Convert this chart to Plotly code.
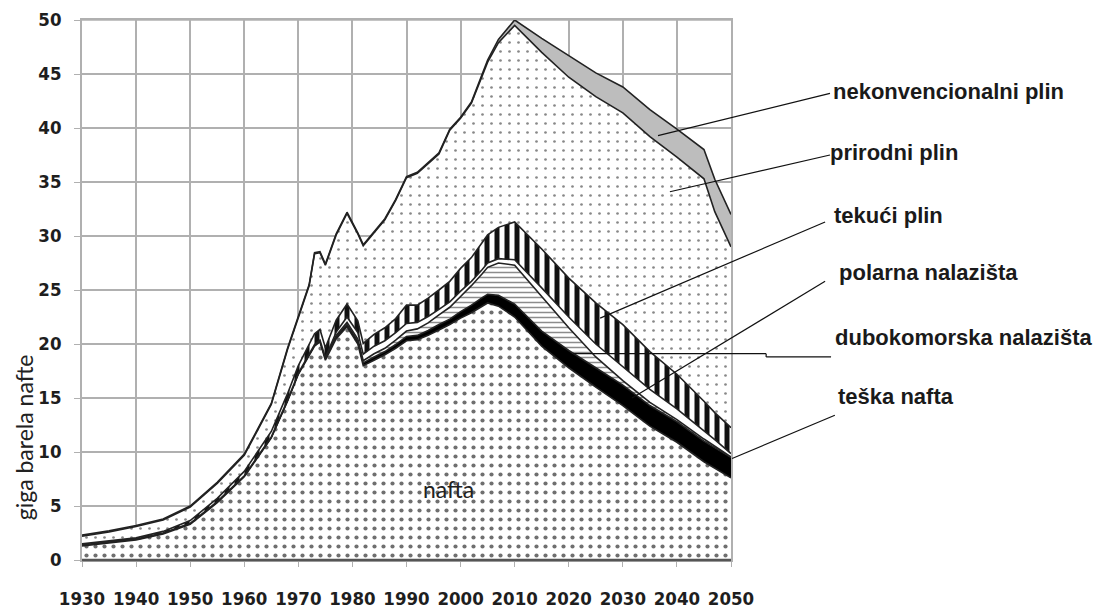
import plotly.graph_objects as go

years = [1930, 1935, 1940, 1945, 1950, 1955, 1960, 1965, 1968, 1970, 1972, 1973, 1974, 1975,
         1977, 1979, 1981, 1982, 1984, 1986, 1988, 1990, 1992, 1994, 1996, 1998, 2000, 2002,
         2004, 2005, 2007, 2010, 2015, 2020, 2025, 2030, 2035, 2040, 2045, 2047, 2050]

nafta = [1.3, 1.55, 1.85, 2.4, 3.3, 5.3, 7.7, 11.3, 14.7, 17.2, 19.0, 19.8, 20.2, 18.5,
         20.5, 21.6, 20.0, 18.0, 18.5, 19.0, 19.6, 20.3, 20.4, 20.8, 21.3, 21.8, 22.4, 22.9,
         23.5, 23.8, 23.5, 22.5, 19.8, 17.8, 16.0, 14.3, 12.4, 10.9, 9.1, 8.5, 7.6]
teska_nafta = [0.1, 0.1, 0.1, 0.1, 0.1, 0.1, 0.1, 0.1, 0.1, 0.1, 0.1, 0.1, 0.1, 0.15,
               0.2, 0.2, 0.25, 0.25, 0.3, 0.3, 0.35, 0.4, 0.4, 0.45, 0.5, 0.5, 0.6, 0.7,
               0.8, 0.8, 1.0, 1.2, 1.4, 1.6, 1.8, 1.9, 1.9, 1.9, 1.9, 1.9, 1.9]
dubokomorska = [0, 0, 0, 0, 0, 0, 0, 0, 0, 0, 0, 0.05, 0.05, 0.1,
                0.1, 0.2, 0.2, 0.2, 0.3, 0.3, 0.4, 0.5, 0.6, 0.7, 0.9, 1.1, 1.4, 1.8,
                2.2, 2.5, 3.0, 3.6, 3.2, 2.1, 1.0, 0.4, 0.3, 0.2, 0.2, 0.15, 0.05]
polarna = [0, 0, 0, 0, 0, 0, 0, 0, 0, 0, 0, 0, 0, 0,
           0.3, 0.5, 0.6, 0.6, 0.7, 0.7, 0.7, 0.7, 0.6, 0.6, 0.5, 0.5, 0.5, 0.4,
           0.4, 0.4, 0.4, 0.5, 0.8, 1.0, 1.2, 1.3, 1.2, 1.0, 0.8, 0.6, 0.3]
tekuci_plin = [0.1, 0.1, 0.1, 0.15, 0.25, 0.3, 0.4, 0.5, 0.6, 0.7, 0.9, 1.0, 1.0, 0.9,
               1.1, 1.2, 1.1, 1.0, 1.1, 1.2, 1.3, 1.7, 1.6, 1.7, 1.8, 1.9, 2.1, 2.2,
               2.5, 2.6, 2.9, 3.5, 3.6, 3.6, 3.8, 3.9, 3.5, 3.2, 2.7, 2.5, 2.4]
prirodni_plin = [0.7, 0.85, 1.05, 1.05, 1.25, 1.4, 1.5, 2.5, 4.1, 4.4, 5.4, 7.4, 7.1, 7.65,
                 7.9, 8.4, 8.05, 9.05, 9.4, 10.0, 10.95, 11.8, 12.2, 12.45, 12.6, 14.0, 13.9, 14.3,
                 15.5, 16.0, 17.1, 18.2, 18.2, 18.6, 19.1, 19.6, 19.9, 20.1, 20.6, 18.6, 16.75]
nekonvencionalni_plin = [0.1, 0.1, 0.1, 0.1, 0.1, 0.1, 0.1, 0.1, 0.1, 0.1, 0.1, 0.1, 0.1, 0.1,
                         0.1, 0.1, 0.1, 0.1, 0.1, 0.1, 0.1, 0.1, 0.1, 0.1, 0.1, 0.1, 0.1, 0.1,
                         0.2, 0.2, 0.3, 0.5, 1.3, 2.0, 2.2, 2.4, 2.5, 2.6, 2.7, 3.0, 3.0]

x_ticks = list(range(1930, 2051, 10))
y_ticks = list(range(0, 51, 5))

# label text: (text, year, value) and leader lines: list of (year, value) points
labels = [
    ("nekonvencionalni plin", 2068.5, 43.4, [(2036.5, 39.3), (2068.3, 43.2)]),
    ("prirodni plin", 2067.9, 37.7, [(2038.7, 34.1), (2068.3, 37.5)]),
    ("tekući plin", 2068.7, 31.9, [(2025.8, 22.4), (2067.4, 31.3)]),
    ("polarna nalazišta", 2069.6, 26.6, [(2031.7, 15.0), (2067.4, 25.8)]),
    ("dubokomorska nalazišta", 2068.9, 20.6, [(2020.8, 19.1), (2056.5, 19.1), (2056.5, 18.8), (2068.5, 18.8)]),
    ("teška nafta", 2069.4, 15.1, [(2050.2, 9.4), (2069.2, 13.4)]),
]

X0, X1, Y0, Y1 = 1930, 2050, 0, 50


def px(year):
    return (year - X0) / (X1 - X0)


def py(val):
    return (val - Y0) / (Y1 - Y0)


fig = go.Figure()
outline = dict(color="#222222", width=1.6)

layers = [
    ("nafta", nafta, dict(shape=".", size=9, solidity=0.17, fgcolor="#6f6f6f", bgcolor="white", fillmode="replace"), None),
    ("teška nafta", teska_nafta, None, "#000000"),
    ("dubokomorska nalazišta", dubokomorska, dict(shape="-", size=5, solidity=0.3, fgcolor="#8c8c8c", bgcolor="white", fillmode="replace"), None),
    ("polarna nalazišta", polarna, None, "#ffffff"),
    ("tekući plin", tekuci_plin, dict(shape="|", size=10, solidity=0.5, fgcolor="#111111", bgcolor="white", fillmode="replace"), None),
    ("prirodni plin", prirodni_plin, dict(shape=".", size=9, solidity=0.07, fgcolor="#888888", bgcolor="white", fillmode="replace"), None),
    ("nekonvencionalni plin", nekonvencionalni_plin, None, "#bdbdbd"),
]

for name, vals, pat, col in layers:
    kw = dict(x=years, y=vals, name=name, mode="lines", stackgroup="one",
              line=outline, hoverinfo="skip")
    if pat is not None:
        kw["fillpattern"] = pat
        kw["fillcolor"] = "white"
    else:
        kw["fillcolor"] = col
    fig.add_trace(go.Scatter(**kw))

annotations = []
shapes = []
for text, lx, ly, pts in labels:
    annotations.append(dict(x=px(lx), y=py(ly), xref="paper", yref="paper", text=text, showarrow=False,
                            xanchor="left", yanchor="middle",
                            font=dict(family="Liberation Sans", size=22, color="#1a1a1a", weight="bold")))
    for (ax0, ay0), (ax1, ay1) in zip(pts[:-1], pts[1:]):
        shapes.append(dict(type="line", xref="paper", yref="paper",
                           x0=px(ax0), y0=py(ay0), x1=px(ax1), y1=py(ay1),
                           line=dict(color="#111111", width=1.2), layer="above"))

annotations.append(dict(x=1997.7, y=6.6, xref="x", yref="y", text="nafta", showarrow=False,
                        font=dict(family="Lato", size=23, color="#222222")))
annotations.append(dict(x=-0.088, y=0.227, xref="paper", yref="paper", text="giga barela nafte",
                        showarrow=False, textangle=-90, xanchor="center", yanchor="middle",
                        font=dict(family="Lato", size=23, color="#222222")))

# bottom axis double line
shapes.append(dict(type="line", xref="paper", yref="paper", x0=0, x1=1, y0=0, y1=0,
                   line=dict(color="#555555", width=2.5), layer="above"))
shapes.append(dict(type="line", xref="paper", yref="paper", x0=0, x1=1, y0=1, y1=1,
                   line=dict(color="#b0b0b0", width=1.6), layer="below"))

tickfont = dict(family="DejaVu Sans Condensed", size=18.5, color="#1e1e1e", weight="bold")
fig.update_layout(
    width=1102, height=611,
    margin=dict(l=74, r=379, t=12, b=59),
    paper_bgcolor="white", plot_bgcolor="white",
    showlegend=False,
    xaxis=dict(range=[X0, X1], tickvals=x_ticks, showgrid=True, gridcolor="#b0b0b0", gridwidth=1.6,
               zeroline=False, showline=True, linecolor="#b0b0b0", linewidth=1.6, mirror=True,
               ticks="outside", ticklen=5, tickcolor="#b0b0b0", tickfont=tickfont,
               ticklabelstandoff=16, automargin=False, ticklabeloverflow="allow"),
    yaxis=dict(range=[Y0, Y1], tickvals=y_ticks, showgrid=True, gridcolor="#b0b0b0", gridwidth=1.6,
               zeroline=False, showline=True, linecolor="#b0b0b0", linewidth=1.6, mirror=True,
               ticks="outside", ticklen=6, tickcolor="#b0b0b0", tickfont=tickfont,
               ticklabelstandoff=9, automargin=False, ticklabeloverflow="allow"),
    annotations=annotations,
    shapes=shapes,
)

fig.write_html("out.html")
